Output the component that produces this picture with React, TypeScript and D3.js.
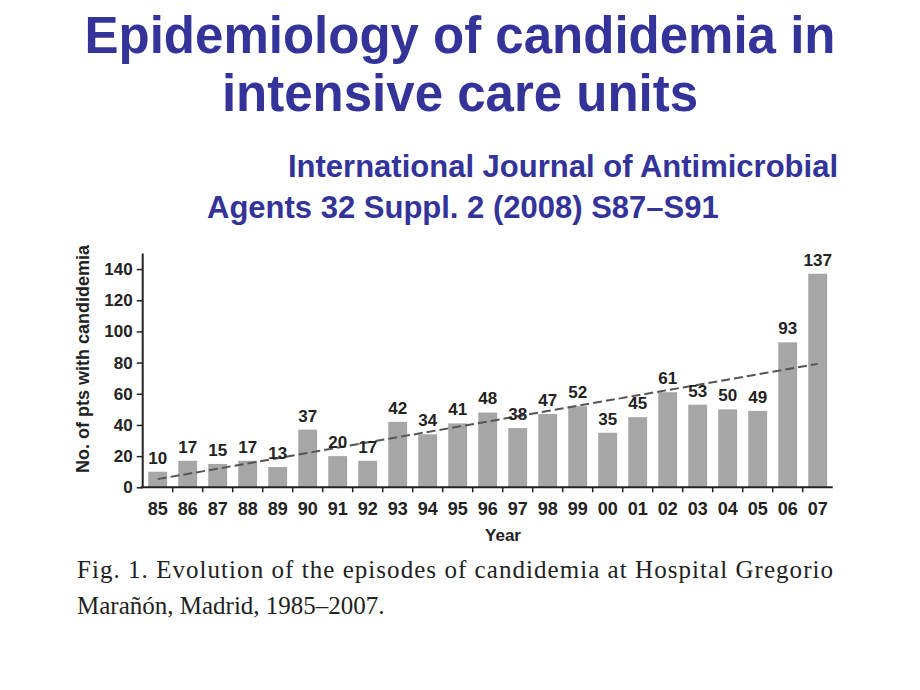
import { useEffect, useRef } from "react";
import * as d3 from "d3";

const WIDTH = 920;
const HEIGHT = 690;

// chart data
const YEARS = [
  "85", "86", "87", "88", "89", "90", "91", "92", "93", "94", "95", "96",
  "97", "98", "99", "00", "01", "02", "03", "04", "05", "06", "07",
];
const EPISODES = [
  10, 17, 15, 17, 13, 37, 20, 17, 42, 34, 41, 48, 38, 47, 52, 35, 45, 61, 53,
  50, 49, 93, 137,
];
const Y_TICKS = [0, 20, 40, 60, 80, 100, 120, 140];

const TITLE_LINES = ["Epidemiology of candidemia in", "intensive care units"];
const SOURCE_LINES = [
  "International Journal of Antimicrobial",
  "Agents 32 Suppl. 2 (2008) S87–S91",
];
const CAPTION_LINES = [
  "Fig. 1. Evolution of the episodes of candidemia at Hospital Gregorio",
  "Marañón, Madrid, 1985–2007.",
];

const PLOT = { left: 142.7, right: 832.7, top: 253.5, bottom: 487.3 };
const SANS = "'Liberation Sans', Arial, sans-serif";
const SERIF = "'Liberation Serif', 'Times New Roman', serif";
const BLUE = "#333399";
const INK = "#222222";

const App = () => {
  const svgRef = useRef(null);

  useEffect(() => {
    const svg = d3.select(svgRef.current);
    svg.selectAll("*").remove();

    // titles
    TITLE_LINES.forEach((t, i) => {
      svg
        .append("text")
        .attr("x", WIDTH / 2)
        .attr("y", 53 + i * 58)
        .attr("text-anchor", "middle")
        .attr("font-family", SANS)
        .attr("font-weight", 700)
        .attr("font-size", 51)
        .attr("fill", BLUE)
        .text(t);
    });

    svg
      .append("text")
      .attr("x", 838)
      .attr("y", 177)
      .attr("text-anchor", "end")
      .attr("font-family", SANS)
      .attr("font-weight", 700)
      .attr("font-size", 31)
      .attr("fill", BLUE)
      .text(SOURCE_LINES[0]);

    svg
      .append("text")
      .attr("x", 207)
      .attr("y", 218)
      .attr("text-anchor", "start")
      .attr("font-family", SANS)
      .attr("font-weight", 700)
      .attr("font-size", 31)
      .attr("fill", BLUE)
      .text(SOURCE_LINES[1]);

    // scales
    const xScale = d3
      .scaleBand()
      .domain(YEARS)
      .range([PLOT.left, PLOT.right])
      .paddingInner(0.37)
      .paddingOuter(0.185);

    const yScale = d3
      .scaleLinear()
      .domain([0, 150])
      .range([PLOT.bottom, PLOT.top]);

    const step = xScale.step();

    // bars
    svg
      .append("g")
      .selectAll("rect")
      .data(EPISODES)
      .join("rect")
      .attr("x", (d, i) => xScale(YEARS[i]))
      .attr("y", (d) => yScale(d))
      .attr("width", xScale.bandwidth())
      .attr("height", (d) => yScale(0) - yScale(d))
      .attr("fill", "#a6a6a6");

    // linear trend (least squares fit of the episodes)
    const n = EPISODES.length;
    const xMean = d3.mean(EPISODES, (d, i) => i);
    const yMean = d3.mean(EPISODES);
    const sxy = d3.sum(EPISODES, (d, i) => (i - xMean) * (d - yMean));
    const sxx = d3.sum(EPISODES, (d, i) => (i - xMean) ** 2);
    const slope = sxy / sxx;
    const intercept = yMean - slope * xMean;
    const trend = [0, n - 1].map((i) => ({ i, v: intercept + slope * i }));

    const line = d3
      .line()
      .x((d) => xScale(YEARS[d.i]) + xScale.bandwidth() / 2)
      .y((d) => yScale(d.v));

    svg
      .append("path")
      .attr("d", line(trend))
      .attr("fill", "none")
      .attr("stroke", "#555555")
      .attr("stroke-width", 2)
      .attr("stroke-dasharray", "9,4");

    // value labels
    svg
      .append("g")
      .selectAll("text")
      .data(EPISODES)
      .join("text")
      .attr("x", (d, i) => xScale(YEARS[i]) + xScale.bandwidth() / 2)
      .attr("y", (d) => yScale(d) - 8)
      .attr("text-anchor", "middle")
      .attr("font-family", SANS)
      .attr("font-weight", 700)
      .attr("font-size", 17)
      .attr("fill", INK)
      .text((d) => d);

    // y axis
    const yAxis = svg
      .append("g")
      .attr("transform", `translate(${PLOT.left},0)`)
      .call(d3.axisLeft(yScale).tickValues(Y_TICKS).tickSize(6).tickPadding(4));
    yAxis.select(".domain").attr("stroke", INK).attr("stroke-width", 2)
      .attr("d", `M0,${PLOT.top}V${PLOT.bottom}`);
    yAxis.selectAll(".tick line").attr("stroke", INK).attr("stroke-width", 1.5);
    yAxis
      .selectAll(".tick text")
      .attr("font-family", SANS)
      .attr("font-weight", 700)
      .attr("font-size", 17)
      .attr("fill", INK);

    // x axis: ticks sit on the category boundaries
    const boundaries = d3.range(1, n).map((i) => PLOT.left + i * step);
    const xAxis = svg.append("g");
    xAxis
      .append("line")
      .attr("x1", PLOT.left - 2)
      .attr("x2", PLOT.right)
      .attr("y1", PLOT.bottom)
      .attr("y2", PLOT.bottom)
      .attr("stroke", INK)
      .attr("stroke-width", 2);
    xAxis
      .selectAll(".bound")
      .data(boundaries)
      .join("line")
      .attr("class", "bound")
      .attr("x1", (d) => d)
      .attr("x2", (d) => d)
      .attr("y1", PLOT.bottom)
      .attr("y2", PLOT.bottom + 5)
      .attr("stroke", INK)
      .attr("stroke-width", 1.5);
    xAxis
      .selectAll(".lab")
      .data(YEARS)
      .join("text")
      .attr("class", "lab")
      .attr("x", (d) => xScale(d) + xScale.bandwidth() / 2)
      .attr("y", 515)
      .attr("text-anchor", "middle")
      .attr("font-family", SANS)
      .attr("font-weight", 700)
      .attr("font-size", 18)
      .attr("fill", INK)
      .text((d) => d);

    // axis titles
    svg
      .append("text")
      .attr("x", 503)
      .attr("y", 541)
      .attr("text-anchor", "middle")
      .attr("font-family", SANS)
      .attr("font-weight", 700)
      .attr("font-size", 17)
      .attr("fill", INK)
      .text("Year");

    svg
      .append("text")
      .attr("transform", `translate(89,359) rotate(-90)`)
      .attr("text-anchor", "middle")
      .attr("font-family", SANS)
      .attr("font-weight", 700)
      .attr("font-size", 18)
      .attr("fill", INK)
      .text("No. of pts with candidemia");

    // caption
    svg
      .append("text")
      .attr("x", 77)
      .attr("y", 578)
      .attr("font-family", SERIF)
      .attr("font-size", 25)
      .attr("fill", INK)
      .attr("textLength", 756)
      .attr("lengthAdjust", "spacing")
      .text(CAPTION_LINES[0]);

    svg
      .append("text")
      .attr("x", 77)
      .attr("y", 614)
      .attr("font-family", SERIF)
      .attr("font-size", 25)
      .attr("fill", INK)
      .text(CAPTION_LINES[1]);
  }, []);

  return (
    <svg
      ref={svgRef}
      width={WIDTH}
      height={HEIGHT}
      style={{ position: "absolute", left: 0, top: 0, background: "#fff" }}
    ></svg>
  );
};

export default App;
